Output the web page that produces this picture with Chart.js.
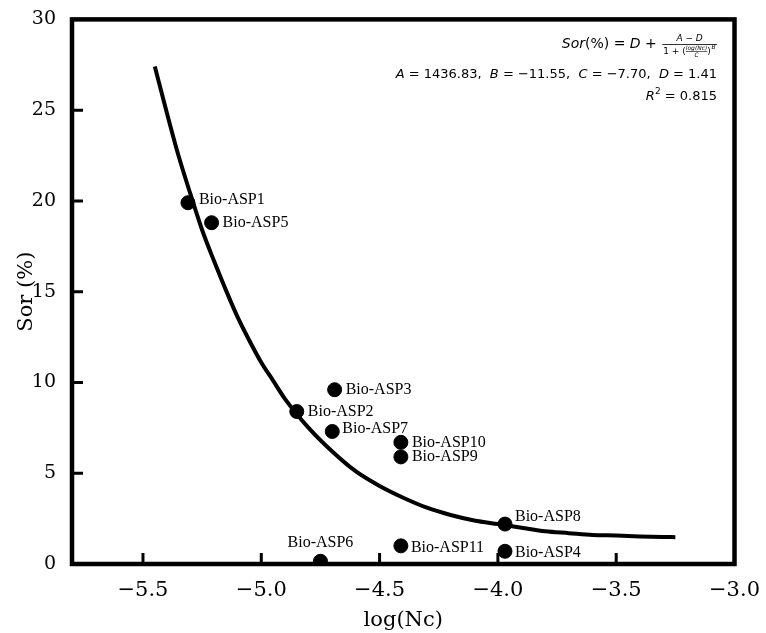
<!DOCTYPE html>
<html>
<head>
<meta charset="utf-8">
<script src="https://cdn.jsdelivr.net/npm/chart.js@4.4.1/dist/chart.umd.min.js"></script>
<style>
    body { margin: 0; background: #fff; }
    canvas { display: block; }
</style>
</head>
<body>
<canvas id="myChart" width="766" height="633"></canvas>
<script>
// samples, log(Nc) vs Sor(%)
const sample_names = ['Bio-ASP1', 'Bio-ASP5', 'Bio-ASP3', 'Bio-ASP2', 'Bio-ASP7', 'Bio-ASP10',
    'Bio-ASP9', 'Bio-ASP8', 'Bio-ASP11', 'Bio-ASP4', 'Bio-ASP6'];
const sample_x = [-5.31, -5.21, -4.69, -4.85, -4.70, -4.41, -4.41, -3.97, -4.41, -3.97, -4.75];
const sample_y = [19.9, 18.8, 9.6, 8.4, 7.3, 6.7, 5.9, 2.2, 1.0, 0.7, 0.15];

// fitted curve
const curve_x = [-5.45, -5.4, -5.35, -5.3, -5.25, -5.2, -5.15, -5.1, -5.05, -5.0, -4.95, -4.9, -4.8,
    -4.7, -4.6, -4.5, -4.4, -4.3, -4.2, -4.1, -4.0, -3.9, -3.8, -3.7, -3.6, -3.5, -3.4, -3.3, -3.25];
const curve_y = [27.4, 24.9, 22.5, 20.4, 18.4, 16.7, 15.1, 13.6, 12.3, 11.1, 10.1, 9.1, 7.5,
    6.2, 5.1, 4.3, 3.65, 3.1, 2.7, 2.4, 2.2, 2.0, 1.8, 1.7, 1.6, 1.57, 1.52, 1.49, 1.48];

const x_ticks = [-5.5, -5.0, -4.5, -4.0, -3.5, -3.0];
const y_ticks = [0, 5, 10, 15, 20, 25, 30];

const fit_params = ['1436.83', '\u221211.55', '\u22127.70', '1.41'];
const r_squared = '0.815';

// label placement next to each point [dx, dy, align]
const label_nudge = {
    'Bio-ASP1': [11, -3, 'left'],
    'Bio-ASP6': [0, -18, 'center'],
    'Bio-ASP7': [10, -3, 'left'],
    'Bio-ASP8': [10, -7, 'left'],
    'Bio-ASP4': [10, 2, 'left'],
    'Bio-ASP11': [10, 2, 'left']
};

const serif = '"DejaVu Serif", serif';
const sans = '"DejaVu Sans", sans-serif';

function draw_runs(ctx, segs, x, y, align) {
    let total = 0;
    segs.forEach(s => { ctx.font = s[1]; total += ctx.measureText(s[0]).width; });
    let cx = align === 'right' ? x - total : x;
    ctx.textAlign = 'left';
    segs.forEach(s => {
        ctx.font = s[1];
        ctx.fillText(s[0], cx, y + (s[2] || 0));
        cx += ctx.measureText(s[0]).width;
    });
    return total;
}

function draw_formula(ctx, rx, y) {
    const it = 'italic 14px ' + sans;
    const up = '14px ' + sans;
    const it_s = 'italic 9px ' + sans;
    const up_s = '9px ' + sans;
    const it_t = 'italic 6px ' + sans;

    ctx.font = it_s;
    const num_w = ctx.measureText('A \u2212 D').width;
    ctx.font = up_s;
    const w1 = ctx.measureText('1 + (').width;
    const wc = ctx.measureText(')').width;
    ctx.font = it_t;
    const inner_w = ctx.measureText('log(Nc)').width;
    const sup_w = ctx.measureText('B').width + 1;
    const den_w = w1 + inner_w + wc + sup_w;
    const frac_w = Math.max(num_w, den_w) + 2;
    const fx = rx - frac_w;

    ctx.fillRect(fx, y - 4, frac_w, 0.8);
    draw_runs(ctx, [['A', it_s], [' \u2212 ', up_s], ['D', it_s]], fx + (frac_w - num_w) / 2, y - 7, 'left');

    let cx = fx + (frac_w - den_w) / 2;
    const dy = y + 6;
    ctx.font = up_s;
    ctx.textAlign = 'left';
    ctx.fillText('1 + (', cx, dy);
    cx += w1;
    ctx.font = it_t;
    ctx.fillText('log(Nc)', cx, dy - 4);
    ctx.fillRect(cx, dy - 3, inner_w, 0.6);
    ctx.textAlign = 'center';
    ctx.fillText('C', cx + inner_w / 2, dy + 3);
    ctx.textAlign = 'left';
    cx += inner_w;
    ctx.font = up_s;
    ctx.fillText(')', cx, dy);
    cx += wc;
    ctx.font = it_t;
    ctx.fillText('B', cx + 0.5, dy - 5);

    draw_runs(ctx, [['Sor', it], ['(%) = ', up], ['D', it], [' + ', up]], fx - 1, y, 'right');
}

const frame_plugin = {
    id: 'frame',
    afterDatasetsDraw(chart) {
        const ctx = chart.ctx;
        const a = chart.chartArea;
        const xs = chart.scales.x;
        const ys = chart.scales.y;
        ctx.save();

        // point labels
        ctx.fillStyle = '#000';
        ctx.font = '16px "Liberation Serif", serif';
        ctx.textBaseline = 'middle';
        sample_names.forEach((name, i) => {
            const n = label_nudge[name] || [11, 0, 'left'];
            ctx.textAlign = n[2];
            ctx.fillText(name, xs.getPixelForValue(sample_x[i]) + n[0], ys.getPixelForValue(sample_y[i]) + n[1]);
        });

        // inward ticks
        ctx.strokeStyle = '#000';
        ctx.lineWidth = 3;
        ctx.beginPath();
        x_ticks.forEach(v => {
            const px = xs.getPixelForValue(v);
            ctx.moveTo(px, a.bottom);
            ctx.lineTo(px, a.bottom - 11);
        });
        y_ticks.forEach(v => {
            const py = ys.getPixelForValue(v);
            ctx.moveTo(a.left, py);
            ctx.lineTo(a.left + 11, py);
        });
        ctx.stroke();

        ctx.lineWidth = 4.5;
        ctx.strokeRect(a.left, a.top, a.right - a.left, a.bottom - a.top);

        // fit annotation
        ctx.textBaseline = 'alphabetic';
        const rx = 717;
        draw_formula(ctx, rx, 48);
        const it = 'italic 13px ' + sans;
        const up = '13px ' + sans;
        draw_runs(ctx, [['A', it], [' = ' + fit_params[0] + ',  ', up], ['B', it], [' = ' + fit_params[1] + ',  ', up],
            ['C', it], [' = ' + fit_params[2] + ',  ', up], ['D', it], [' = ' + fit_params[3], up]], rx, 78, 'right');
        draw_runs(ctx, [['R', it], ['2', '9px ' + sans, -6], [' = ' + r_squared, up]], rx, 100, 'right');
        ctx.restore();
    }
};

function minus(v, d) {
    return v.toFixed(d).replace('-', '\u2212');
}

const myChart = new Chart(document.getElementById('myChart').getContext('2d'), {
    data: {
        datasets: [
            {
                type: 'line',
                data: curve_x.map((x, i) => ({x: x, y: curve_y[i]})),
                borderColor: '#000',
                borderWidth: 4,
                pointRadius: 0,
                cubicInterpolationMode: 'monotone',
                fill: false,
                order: 2
            },
            {
                type: 'scatter',
                data: sample_x.map((x, i) => ({x: x, y: sample_y[i]})),
                backgroundColor: '#000',
                borderColor: '#000',
                pointRadius: 7,
                order: 1
            }
        ]
    },
    options: {
        responsive: false,
        animation: false,
        layout: {padding: {top: 11, right: 29, left: 0, bottom: 0}},
        plugins: {
            legend: {display: false},
            tooltip: {enabled: false}
        },
        scales: {
            x: {
                type: 'linear',
                min: -5.8,
                max: -3.0,
                afterBuildTicks: s => { s.ticks = x_ticks.map(v => ({value: v})); },
                afterFit: s => { s.height = 69; },
                grid: {display: false},
                border: {display: false},
                ticks: {
                    autoSkip: false,
                    maxRotation: 0,
                    padding: 6,
                    color: '#000',
                    font: {family: serif, size: 21},
                    callback: v => minus(v, 1)
                },
                title: {
                    display: true,
                    text: 'log(Nc)',
                    color: '#000',
                    font: {family: serif, size: 21},
                    padding: {top: 0, bottom: 0}
                }
            },
            y: {
                type: 'linear',
                min: 0,
                max: 30,
                afterBuildTicks: s => { s.ticks = y_ticks.map(v => ({value: v})); },
                afterFit: s => { s.width = 72; },
                grid: {display: false},
                border: {display: false},
                ticks: {
                    autoSkip: false,
                    padding: 8,
                    color: '#000',
                    font: {family: serif, size: 19},
                    callback: v => String(v)
                },
                title: {
                    display: true,
                    text: 'Sor (%)',
                    color: '#000',
                    font: {family: serif, size: 21},
                    padding: {top: 14, bottom: 0}
                }
            }
        }
    },
    plugins: [frame_plugin]
});
</script>
</body>
</html>
